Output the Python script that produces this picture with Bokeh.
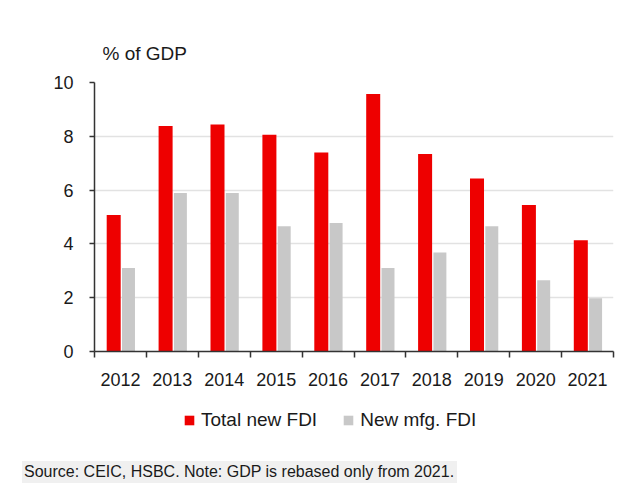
from bokeh.plotting import figure
from bokeh.models import (ColumnDataSource, Range1d, FixedTicker, Legend, LegendItem, Div)
from bokeh.transform import dodge
from bokeh.layouts import column
from bokeh.embed import file_html
from bokeh.resources import INLINE

years = ["2012", "2013", "2014", "2015", "2016", "2017", "2018", "2019", "2020", "2021"]
total_fdi = [5.07, 8.38, 8.44, 8.06, 7.40, 9.57, 7.34, 6.43, 5.45, 4.14]
mfg_fdi = [3.10, 5.89, 5.89, 4.66, 4.78, 3.10, 3.68, 4.66, 2.65, 1.98]
y_ticks = [0, 2, 4, 6, 8, 10]
series_names = ["Total new FDI", "New mfg. FDI"]
colors = ["#ee0000", "#c8c8c8"]

FONT = "Liberation Sans"
TXT = "#1a1a1a"
AX = "#333333"

xs = [i + 0.5 for i in range(len(years))]
src = ColumnDataSource(dict(x=xs, total=total_fdi, mfg=mfg_fdi))

p = figure(width=615, height=392, output_backend="svg", toolbar_location=None,
           x_range=Range1d(0, len(years)), y_range=Range1d(0, 10),
           min_border_left=94, min_border_right=2, min_border_top=82, min_border_bottom=41)
p.outline_line_color = None
p.background_fill_color = "white"
p.border_fill_color = "white"

bar_kw = [dict(x=dodge("x", -0.13), top="total", width=0.27),
          dict(x=dodge("x", 0.155), top="mfg", width=0.25)]
for kw, c in zip(bar_kw, colors):
    p.vbar(bottom=0, source=src, fill_color=c, line_color=None, **kw)

# title
p.title.text = "% of GDP"
p.title.text_font = FONT
p.title.text_font_size = "19px"
p.title.text_font_style = "normal"
p.title.text_color = TXT
p.title.align = "left"
p.title.offset = 8
p.title.standoff = 37

# x axis
xa = p.xaxis[0]
xa.ticker = FixedTicker(ticks=xs, minor_ticks=list(range(len(years) + 1)))
xa.major_label_overrides = {x: y for x, y in zip(xs, years)}
xa.major_tick_out = 0
xa.major_tick_in = 0
xa.minor_tick_out = 6
xa.minor_tick_in = 0
xa.minor_tick_line_color = AX
xa.minor_tick_line_width = 1.5
xa.axis_line_color = AX
xa.axis_line_width = 1.5
xa.major_label_text_font = FONT
xa.major_label_text_font_size = "18px"
xa.major_label_text_color = TXT
xa.major_label_standoff = 15

# y axis
ya = p.yaxis[0]
ya.ticker = FixedTicker(ticks=y_ticks, minor_ticks=[])
ya.major_tick_out = 5
ya.major_tick_in = 0
ya.major_tick_line_color = AX
ya.major_tick_line_width = 1.5
ya.minor_tick_line_color = None
ya.axis_line_color = AX
ya.axis_line_width = 1.5
ya.major_label_text_font = FONT
ya.major_label_text_font_size = "18px"
ya.major_label_text_color = TXT
ya.major_label_standoff = 16

p.xgrid.grid_line_color = None
p.ygrid.grid_line_color = "#e2e2e2"
p.ygrid.grid_line_width = 1.5

# legend in a small strip below the chart (same data, viewed out of range)
lf = figure(width=615, height=53, output_backend="svg", toolbar_location=None,
            x_range=Range1d(100, 101), y_range=Range1d(100, 101),
            x_axis_location=None, y_axis_location=None,
            min_border_left=0, min_border_right=0, min_border_top=0, min_border_bottom=0)
lf.outline_line_color = None
lf.grid.visible = False
lrs = []
for kw, c in zip(bar_kw, colors):
    lrs.append(lf.vbar(bottom=0, source=src, fill_color=c, line_color=None, **kw))
legend = Legend(items=[LegendItem(label=n, renderers=[r]) for n, r in zip(series_names, lrs)],
                orientation="horizontal", location=(89, 14),
                glyph_width=12, glyph_height=12, label_standoff=6, spacing=25,
                padding=5, margin=0, border_line_color=None, background_fill_alpha=0,
                label_text_font=FONT, label_text_font_size="19px", label_text_color=TXT)
lf.add_layout(legend, "center")

div = Div(text="Source: CEIC, HSBC. Note: GDP is rebased only from 2021.",
          margin=(16, 0, 0, 22),
          styles={"background-color": "#f0f0f0", "font-family": FONT, "font-size": "16px",
                  "color": TXT, "padding": "2px 3px 2px 2px", "line-height": "18px"})

layout = column(p, lf, div, spacing=0)
open("out.html", "w").write(file_html(layout, INLINE))
